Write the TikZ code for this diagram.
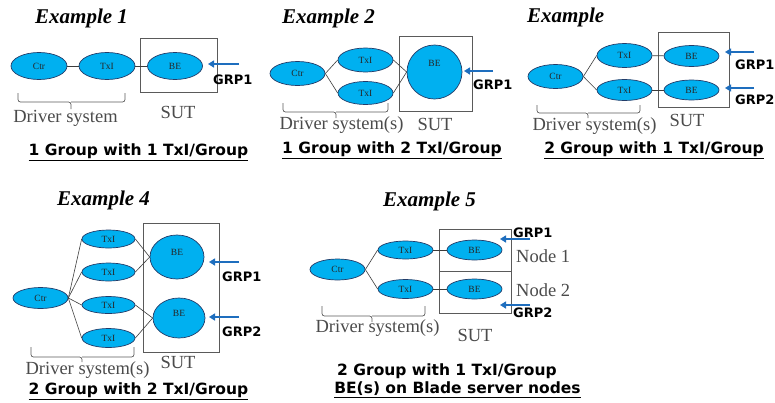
\documentclass[tikz,border=0pt]{standalone}
\usepackage{fontspec}
\setmainfont{Liberation Serif}
\newfontfamily\capfont{DejaVu Sans}
\usetikzlibrary{shapes.geometric,arrows.meta}
\definecolor{ellfill}{RGB}{0,176,240}
\definecolor{ellline}{RGB}{35,60,105}
\definecolor{arrblue}{RGB}{30,110,190}
\definecolor{graytxt}{RGB}{75,75,75}
\definecolor{boxline}{RGB}{90,90,90}
\definecolor{conline}{RGB}{60,60,60}
\tikzset{
  ell/.style={ellipse, draw=ellline, fill=ellfill, line width=0.7pt, inner sep=0pt,
    font=\fontsize{9.5}{11}\selectfont, text=black!85},
  bigbe/.style={label={[font=\fontsize{9.5}{11}\selectfont, text=black!85, yshift=#1]center:BE}},
  con/.style={draw=conline, line width=0.6pt},
  grparrow/.style={draw=arrblue, line width=2pt, -{Triangle[length=6pt,width=7pt]}},
  grp/.style={font=\capfont\bfseries\fontsize{13}{15}\selectfont, anchor=west, inner sep=0pt},
  extitle/.style={font=\bfseries\itshape\fontsize{21}{24}\selectfont, anchor=base west, inner sep=0pt, text=black},
  captxt/.style={font=\capfont\bfseries\fontsize{15.5}{18}\selectfont, inner sep=0pt},
  gtxt/.style={font=\fontsize{18.5}{21}\selectfont, text=graytxt, inner sep=0pt},
  sutbox/.style={draw=boxline, line width=0.8pt},
  bracket/.style={draw=graytxt!90, line width=0.7pt, rounded corners=2.5pt},
}
\begin{document}
\begin{tikzpicture}[x=1pt,y=-1pt]
\useasboundingbox (0,0) rectangle (775,402);
\fill[white] (0,0) rectangle (775,402);

% ---------------- Example 1 ----------------
\node[extitle] (t1) at (35,23) {Example 1};
\draw[sutbox] (140,38) rectangle (217,92);
\node[ell, minimum width=56pt, minimum height=27pt] (c1) at (39,66) {Ctr};
\node[ell, minimum width=56pt, minimum height=27pt] (x1) at (107,66) {TxI};
\node[ell, minimum width=55pt, minimum height=27pt] (b1) at (175,66) {BE};
\draw[con] (c1) -- (x1);
\draw[con] (x1) -- (b1);
\coordinate (a1s) at (239,64); \coordinate (a1e) at (208,64);
\draw[grparrow] (a1s) -- (a1e);
\node[grp] (g1) at (213,80) {GRP1};
\draw[bracket] (18,93) -- (18,102) -- (71,102) -- (71,109) (71,102) -- (125,102) -- (125,93);
\node[gtxt] (d1) at (65.5,118) {Driver system};
\node[gtxt] (s1) at (178,112) {SUT};
\node[captxt] (k1) at (138.5,152) {\underline{1 Group with 1 TxI/Group}};

% ---------------- Example 2 ----------------
\node[extitle] (t2) at (282,23) {Example 2};
\draw[sutbox] (399,36) rectangle (472,111);
\node[ell, minimum width=55pt, minimum height=24pt] (c2) at (297.5,73.5) {Ctr};
\node[ell, minimum width=55pt, minimum height=24pt] (x2a) at (365.5,60) {TxI};
\node[ell, minimum width=55pt, minimum height=23pt] (x2b) at (365.5,93) {TxI};
\node[ell, minimum width=55pt, minimum height=54pt, bigbe=9pt] (b2) at (434.5,72) {};
\draw[con] (c2.east) -- (x2a.west);
\draw[con] (c2.east) -- (x2b.west);
\draw[con] (x2a.east) -- (b2.west);
\draw[con] (x2b.east) -- (b2.west);
\coordinate (a2s) at (493,71); \coordinate (a2e) at (464,71);
\draw[grparrow] (a2s) -- (a2e);
\node[grp] (g2) at (473,85) {GRP1};
\draw[bracket] (283,103) -- (283,112) -- (336,112) -- (336,118) (336,112) -- (388,112) -- (388,103);
\node[gtxt] (d2) at (341.5,125) {Driver system(s)};
\node[gtxt] (s2) at (435,124) {SUT};
\node[captxt] (k2) at (392,150) {\underline{1 Group with 2 TxI/Group}};

% ---------------- Example 3 ----------------
\node[extitle] (t3) at (527,22) {Example};
\draw[sutbox] (658,32) rectangle (729,107);
\node[ell, minimum width=55pt, minimum height=24pt] (c3) at (555.5,76.5) {Ctr};
\node[ell, minimum width=55pt, minimum height=24pt] (x3a) at (624.5,55.5) {TxI};
\node[ell, minimum width=55pt, minimum height=21pt] (x3b) at (624.5,90) {TxI};
\node[ell, minimum width=55pt, minimum height=21pt] (b3a) at (691.5,56) {BE};
\node[ell, minimum width=55pt, minimum height=20pt] (b3b) at (691.5,90) {BE};
\draw[con] (c3.east) -- (x3a.west);
\draw[con] (c3.east) -- (x3b.west);
\draw[con] (x3a) -- (b3a);
\draw[con] (x3b) -- (b3b);
\coordinate (a3s) at (754,52); \coordinate (a3e) at (725,52);
\coordinate (a3t) at (754,88); \coordinate (a3f) at (725,88);
\draw[grparrow] (a3s) -- (a3e);
\draw[grparrow] (a3t) -- (a3f);
\node[grp] (g3a) at (735,65) {GRP1};
\node[grp] (g3b) at (735,100) {GRP2};
\draw[bracket] (537,105) -- (537,113) -- (588,113) -- (588,118) (588,113) -- (640,113) -- (640,105);
\node[gtxt] (d3) at (594.5,126) {Driver system(s)};
\node[gtxt] (s3) at (687,120) {SUT};
\node[captxt] (k3) at (654,150) {\underline{2 Group with 1 TxI/Group}};

% ---------------- Example 4 ----------------
\node[extitle] (t4) at (57,205) {Example 4};
\draw[sutbox] (143,223) rectangle (219,352);
\node[ell, minimum width=55pt, minimum height=21pt] (c4) at (40.5,298) {Ctr};
\node[ell, minimum width=53pt, minimum height=18pt] (x4a) at (108.5,239) {TxI};
\node[ell, minimum width=53pt, minimum height=18pt] (x4b) at (108.5,272) {TxI};
\node[ell, minimum width=53pt, minimum height=17pt] (x4c) at (108.5,305) {TxI};
\node[ell, minimum width=53pt, minimum height=19pt] (x4d) at (108.5,338) {TxI};
\node[ell, minimum width=54pt, minimum height=44pt, bigbe=5pt] (b4a) at (177,257) {};
\node[ell, minimum width=52pt, minimum height=40pt, bigbe=5pt] (b4b) at (179,318) {};
\draw[con] (c4.east) -- (x4a.west);
\draw[con] (c4.east) -- (x4b.west);
\draw[con] (c4.east) -- (x4c.west);
\draw[con] (c4.east) -- (x4d.west);
\draw[con] (x4a.east) -- (b4a.west);
\draw[con] (x4b.east) -- (b4a.west);
\draw[con] (x4c.east) -- (b4b.west);
\draw[con] (x4d.east) -- (b4b.west);
\coordinate (a4s) at (239,262); \coordinate (a4e) at (209,262);
\coordinate (a4t) at (239,317); \coordinate (a4f) at (209,317);
\draw[grparrow] (a4s) -- (a4e);
\draw[grparrow] (a4t) -- (a4f);
\node[grp] (g4a) at (222,277) {GRP1};
\node[grp] (g4b) at (222,332) {GRP2};
\draw[bracket] (31,347) -- (31,357) -- (82,357) -- (82,362) (82,357) -- (134,357) -- (134,347);
\node[gtxt] (d4) at (87.5,370) {Driver system(s)};
\node[gtxt] (s4) at (178,362) {SUT};
\node[captxt] (k4) at (138.5,391) {\underline{2 Group with 2 TxI/Group}};

% ---------------- Example 5 ----------------
\node[extitle] (t5) at (383,206) {Example 5};
\draw[sutbox] (439,229) rectangle (511,271);
\draw[sutbox] (439,271) rectangle (511,313);
\node[ell, minimum width=55pt, minimum height=21pt] (c5) at (337.5,269.5) {Ctr};
\node[ell, minimum width=55pt, minimum height=18pt] (x5a) at (405.5,250) {TxI};
\node[ell, minimum width=55pt, minimum height=19pt] (x5b) at (405.5,289) {TxI};
\node[ell, minimum width=55pt, minimum height=20pt] (b5a) at (474.5,250) {BE};
\node[ell, minimum width=55pt, minimum height=20pt] (b5b) at (474.5,289) {BE};
\draw[con] (c5.east) -- (x5a.west);
\draw[con] (c5.east) -- (x5b.west);
\draw[con] (x5a) -- (b5a);
\draw[con] (x5b) -- (b5b);
\coordinate (a5s) at (530,239); \coordinate (a5e) at (500,239);
\coordinate (a5t) at (530,305); \coordinate (a5f) at (500,305);
\draw[grparrow] (a5s) -- (a5e);
\draw[grparrow] (a5t) -- (a5f);
\node[grp] (g5a) at (513,233) {GRP1};
\node[grp] (g5b) at (513,313) {GRP2};
\node[gtxt, anchor=west] (n5a) at (516,256) {Node 1};
\node[gtxt, anchor=west] (n5b) at (516,290) {Node 2};
\draw[bracket] (322,306) -- (322,316) -- (372,316) -- (372,322) (372,316) -- (425,316) -- (425,306);
\node[gtxt] (d5) at (377.5,328) {Driver system(s)};
\node[gtxt] (s5) at (475,335) {SUT};
\node[captxt] (k5a) at (447,371) {2 Group with 1 TxI/Group};
\node[captxt] (k5b) at (457.5,390) {\underline{BE(s) on Blade server nodes}};
\end{tikzpicture}
\end{document}
